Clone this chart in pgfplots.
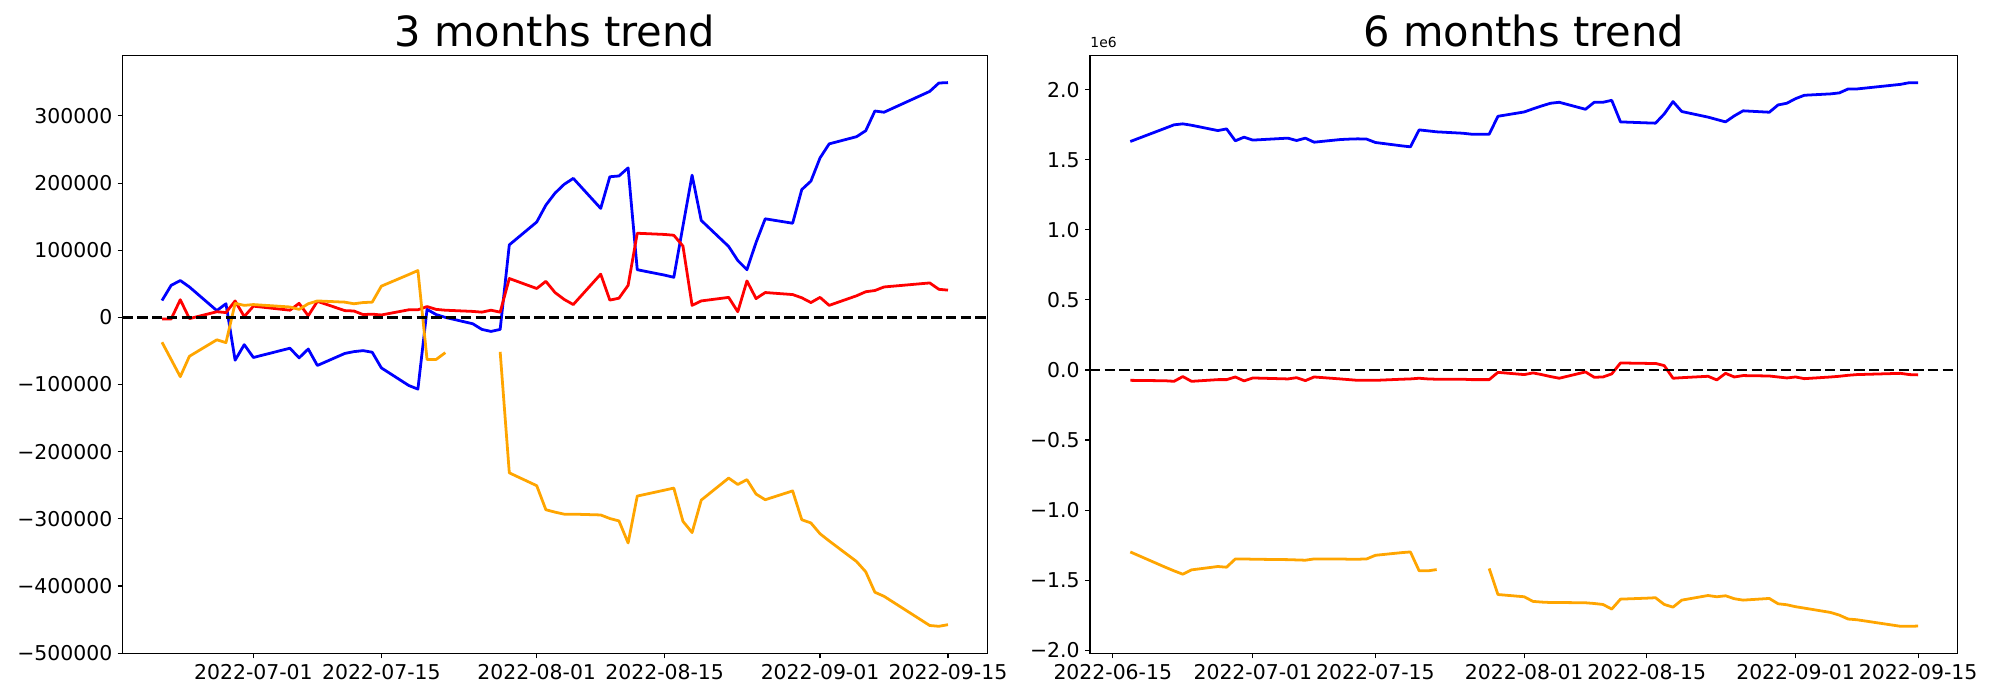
\documentclass[border=0pt]{standalone}
\usepackage{fontspec}
\setmainfont{DejaVu Sans}
\usepackage{pgfplots}
\pgfplotsset{compat=1.18}
\usepackage{pgfplotstable}
\definecolor{mplorange}{RGB}{255,165,0}

\pgfplotstableread{
d blue red orange
-10 25100 -2400 -37000
-9 47700 -2400 -62600
-8 54900 26300 -88300
-7 45300 -1800 -57900
-4 10100 8400 -33400
-3 20300 7200 -37600
-2 -63800 24500 20900
-1 -40600 1200 17900
0 -59700 16700 19100
4 -45900 10700 15500
5 -60300 20900 11900
6 -47100 2400 20300
7 -71600 23900 24500
10 -53700 10100 22700
11 -51000 9500 20300
12 -49500 4200 22100
13 -51900 4800 22700
14 -75200 3600 46500
17 -101400 11300 63800
18 -106800 11300 69800
19 11900 16100 -62600
20 4200 11900 -62600
21 0 10700 -52500
24 -9500 8900 nan
25 -17900 7800 nan
26 -20900 10700 nan
27 -17900 7800 -51300
28 108000 57900 -231500
31 142000 43000 -250600
32 167100 53700 -286400
33 185000 37000 -290000
34 198100 26800 -293000
35 207000 19100 -293000
38 162300 64400 -294200
39 209400 25700 -299500
40 210600 28600 -303100
41 222600 47700 -335900
42 71000 125300 -266100
45 62900 123500 -257200
46 59700 122300 -254200
47 136000 106200 -303700
48 211800 17900 -320400
49 144400 24500 -272100
52 105600 29800 -239300
53 84700 8400 -248800
54 71000 54300 -241600
55 111600 28000 -263100
56 146800 37000 -271500
59 140200 34000 -258400
60 190300 29200 -301300
61 202900 22100 -306100
62 237500 29800 -322200
63 258400 17900 -332900
66 269100 32200 -363600
67 278000 38200 -378900
68 307300 40000 -409300
69 305500 45300 -415300
74 336500 51300 -458800
75 349000 41800 -460000
76 349600 40600 -457600
}\threemonths

\pgfplotstableread{
d blue red orange
-14 1.631 -0.074 -1.299
-10 1.726 -0.077 -1.408
-9 1.750 -0.081 -1.434
-8 1.757 -0.047 -1.458
-7 1.747 -0.081 -1.427
-4 1.709 -0.069 -1.403
-3 1.721 -0.069 -1.408
-2 1.636 -0.050 -1.349
-1 1.662 -0.078 -1.349
0 1.641 -0.057 -1.351
4 1.655 -0.064 -1.354
5 1.638 -0.055 -1.356
6 1.655 -0.076 -1.358
7 1.626 -0.050 -1.349
10 1.645 -0.064 -1.349
11 1.648 -0.069 -1.351
12 1.650 -0.074 -1.351
13 1.648 -0.074 -1.349
14 1.624 -0.074 -1.323
17 1.600 -0.066 -1.304
18 1.593 -0.064 -1.299
19 1.714 -0.059 -1.434
20 1.707 -0.064 -1.434
21 1.700 -0.066 -1.425
24 1.690 -0.066 nan
25 1.683 -0.069 nan
26 1.683 -0.069 nan
27 1.683 -0.069 -1.417
28 1.811 -0.017 -1.603
31 1.842 -0.033 -1.619
32 1.864 -0.021 -1.652
33 1.885 -0.033 -1.657
34 1.904 -0.047 -1.660
35 1.911 -0.059 -1.660
38 1.861 -0.014 -1.662
39 1.911 -0.052 -1.667
40 1.911 -0.050 -1.674
41 1.925 -0.028 -1.707
42 1.771 0.050 -1.636
45 1.764 0.047 -1.629
46 1.762 0.047 -1.626
47 1.828 0.031 -1.674
48 1.916 -0.059 -1.693
49 1.845 -0.055 -1.643
52 1.805 -0.045 -1.610
53 1.788 -0.071 -1.619
54 1.771 -0.024 -1.612
55 1.814 -0.050 -1.633
56 1.850 -0.040 -1.643
59 1.840 -0.043 -1.631
60 1.892 -0.050 -1.669
61 1.904 -0.057 -1.676
62 1.937 -0.050 -1.690
63 1.961 -0.062 -1.700
66 1.971 -0.050 -1.731
67 1.978 -0.045 -1.750
68 2.006 -0.038 -1.778
69 2.006 -0.033 -1.783
74 2.039 -0.024 -1.830
75 2.051 -0.033 -1.830
76 2.051 -0.035 -1.828
}\sixmonths

\pgfplotsset{
  common/.style={
    scale only axis, anchor=south west, height=299pt,
    axis line style={line width=0.55pt},
    tick align=outside, tick pos=left, major tick length=2.5pt,
    every tick/.style={black, line width=0.55pt},
    ticklabel style={font=\fontsize{10.2}{12}\selectfont},
    xticklabel style={anchor=north, inner sep=0pt, yshift=-2.5pt},
    yticklabel style={anchor=east, inner sep=0pt, xshift=-2.5pt},
    scaled y ticks=false, scaled x ticks=false,
    unbounded coords=jump,
    every axis plot/.append style={line width=1.39pt, line join=round},
  },
  zero/.style={black, line width=1.39pt, dash pattern=on 5.15pt off 2.2pt},
}

\begin{document}
\begin{tikzpicture}[x=1pt,y=1pt]
\useasboundingbox (0,0) rectangle (1000,350);

\begin{axis}[common, at={(61.35pt,23.25pt)}, width=432.3pt,
  xmin=-14.3, xmax=80.3, ymin=-500500, ymax=390000,
  xtick={0,14,31,45,62,76},
  xticklabels={2022-07-01,2022-07-15,2022-08-01,2022-08-15,2022-09-01,2022-09-15},
  ytick={-500000,-400000,-300000,-200000,-100000,0,100000,200000,300000},
  yticklabels={−500000,−400000,−300000,−200000,−100000,0,100000,200000,300000},
]
\addplot[blue] table[x=d, y=blue] {\threemonths};
\addplot[red] table[x=d, y=red] {\threemonths};
\addplot[mplorange] table[x=d, y=orange] {\threemonths};
\addplot[zero] coordinates {(-14.3,0) (80.3,0)};
\end{axis}

\begin{axis}[common, at={(545pt,23.25pt)}, width=433.75pt,
  xmin=-18.6, xmax=80.5, ymin=-2.024, ymax=2.245,
  xtick={-16,0,14,31,45,62,76},
  xticklabels={2022-06-15,2022-07-01,2022-07-15,2022-08-01,2022-08-15,2022-09-01,2022-09-15},
  ytick={-2,-1.5,-1,-0.5,0,0.5,1,1.5,2},
  yticklabels={−2.0,−1.5,−1.0,−0.5,0.0,0.5,1.0,1.5,2.0},
]
\addplot[blue] table[x=d, y=blue] {\sixmonths};
\addplot[red] table[x=d, y=red] {\sixmonths};
\addplot[mplorange] table[x=d, y=orange] {\sixmonths};
\addplot[zero] coordinates {(-18.6,0) (80.5,0)};
\end{axis}

\node[anchor=base, inner sep=0pt, font=\fontsize{20.8}{24}\selectfont] at (277.5,326.5) {3 months trend};
\node[anchor=base, inner sep=0pt, font=\fontsize{20.8}{24}\selectfont] at (761.9,326.5) {6 months trend};
\node[anchor=base west, inner sep=0pt, font=\fontsize{6.95}{8}\selectfont] at (545,326) {1e6};
\end{tikzpicture}
\end{document}
